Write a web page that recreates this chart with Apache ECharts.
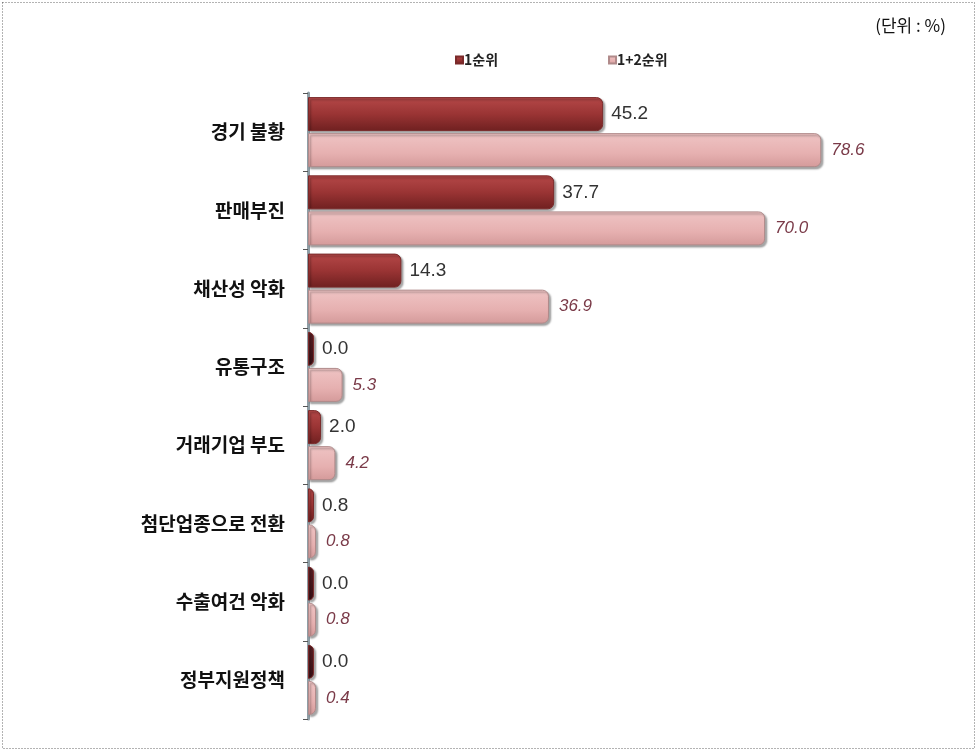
<!DOCTYPE html>
<html>
<head>
<meta charset="utf-8">
<script src="https://cdn.jsdelivr.net/npm/echarts@6/dist/echarts.min.js"></script>
<style>
  html, body { margin: 0; padding: 0; background: #fff; }
  #chart { width: 978px; height: 752px; }
</style>
</head>
<body>
<div id="chart"></div>
<script>
// 항목 (위에서 아래 순서)
const categories = ['경기 불황', '판매부진', '채산성 악화', '유통구조', '거래기업 부도', '첨단업종으로 전환', '수출여건 악화', '정부지원정책'];
const rank1 = [45.2, 37.7, 14.3, 0.0, 2.0, 0.8, 0.0, 0.0];
const rank12 = [78.6, 70.0, 36.9, 5.3, 4.2, 0.8, 0.8, 0.4];
const seriesNames = ['1순위', '1+2순위'];

const darkGrad = new echarts.graphic.LinearGradient(0, 0, 0, 1, [
  { offset: 0, color: '#b54848' },
  { offset: 0.5, color: '#9a3434' },
  { offset: 1, color: '#6f2020' }
]);
const zeroGrad = new echarts.graphic.LinearGradient(0, 0, 0, 1, [
  { offset: 0, color: '#5a1f24' },
  { offset: 1, color: '#3a1016' }
]);
const pinkGrad = new echarts.graphic.LinearGradient(0, 0, 0, 1, [
  { offset: 0, color: '#efc4c4' },
  { offset: 0.6, color: '#e6b0b0' },
  { offset: 1, color: '#d49a9a' }
]);

const chart = echarts.init(document.getElementById('chart'));
chart.setOption({
  animation: false,
  graphic: [
    {
      type: 'rect',
      shape: { x: 2.5, y: 2.5, width: 972, height: 746 },
      style: { fill: 'none', stroke: '#666', lineWidth: 1, lineDash: [1, 2] }
    },
    {
      type: 'text',
      right: 32,
      top: 17,
      style: { text: '(단위 : %)', font: '17px "Noto Sans CJK KR"', fill: '#111' }
    }
  ],
  legend: {
    top: 48,
    left: 450,
    itemGap: 110,
    itemWidth: 7,
    itemHeight: 7,
    icon: 'rect',
    textStyle: { fontFamily: 'Noto Sans CJK KR', fontWeight: 'bold', fontSize: 14, color: '#222', padding: [0, 0, 0, -4] },
    data: seriesNames
  },
  grid: { left: 308, top: 93, width: 653, bottom: 33, containLabel: false },
  xAxis: { type: 'value', min: 0, max: 100, show: false },
  yAxis: {
    type: 'category',
    inverse: true,
    data: categories,
    axisLine: { show: true, lineStyle: { color: '#8f9ea6', width: 3 } },
    axisTick: { show: true, length: 5, lineStyle: { color: '#555' } },
    axisLabel: { margin: 23, fontFamily: 'Noto Sans CJK KR', fontWeight: 'bold', fontSize: 19, color: '#111' }
  },
  series: [
    {
      name: seriesNames[0],
      type: 'bar',
      barWidth: 34,
      barGap: '6%',
      barMinHeight: 6,
      data: rank1.map(v => ({ value: v, itemStyle: { color: v === 0 ? zeroGrad : darkGrad } })),
      itemStyle: {
        color: darkGrad,
        borderRadius: [0, 6, 6, 0],
        borderColor: '#7a2a2a',
        borderWidth: 1,
        shadowColor: 'rgba(0,0,0,0.35)',
        shadowOffsetX: 2,
        shadowOffsetY: 2,
        shadowBlur: 2
      },
      label: {
        show: true,
        position: 'right',
        distance: 8,
        formatter: p => p.value.toFixed(1),
        fontFamily: 'Arial, Liberation Sans',
        fontSize: 19,
        color: '#333'
      }
    },
    {
      name: seriesNames[1],
      type: 'bar',
      barWidth: 34,
      barMinHeight: 8,
      data: rank12,
      itemStyle: {
        color: pinkGrad,
        borderRadius: [0, 6, 6, 0],
        borderColor: '#b08a8a',
        borderWidth: 1,
        shadowColor: 'rgba(0,0,0,0.35)',
        shadowOffsetX: 2,
        shadowOffsetY: 2,
        shadowBlur: 2
      },
      label: {
        show: true,
        position: 'right',
        distance: 10,
        formatter: p => p.value.toFixed(1),
        fontFamily: 'Arial, Liberation Sans',
        fontStyle: 'italic',
        fontSize: 17,
        color: '#7a3a48'
      }
    }
  ]
});
</script>
</body>
</html>
